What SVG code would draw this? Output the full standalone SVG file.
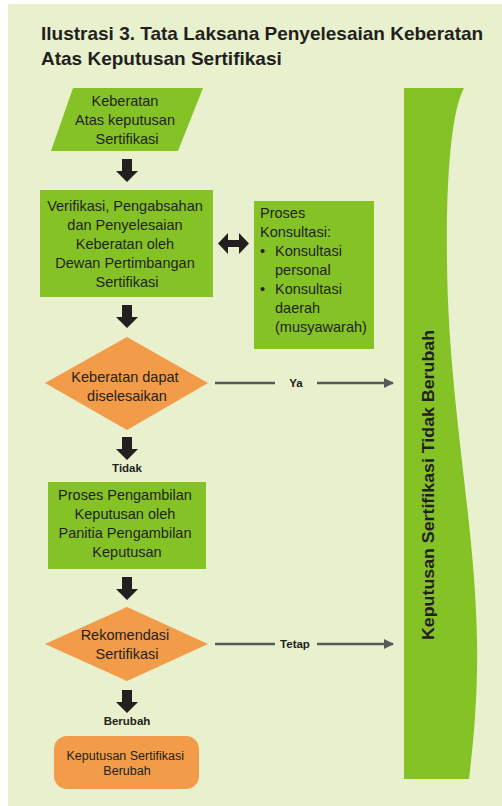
<svg xmlns="http://www.w3.org/2000/svg" width="502" height="806" viewBox="0 0 502 806">
  <defs>
    <style>
      .txt { font-family: "Liberation Sans", Arial, sans-serif; fill: #231f20; }
      .body { font-size: 14.5px; }
      .small { font-size: 12.5px; }
      .lbl { font-size: 11.5px; font-weight: bold; }
      .title { font-size: 19px; font-weight: bold; }
      .green { fill: #85c226; }
      .orange { fill: #f29b48; }
      .block { fill: #231f20; }
      .line { stroke: #58595b; stroke-width: 2.5; fill: none; }
    </style>
    <marker id="tri" viewBox="0 0 10 10" refX="9" refY="5" markerWidth="4" markerHeight="4" orient="auto">
      <path d="M0,0 L10,5 L0,10 Z" fill="#58595b"/>
    </marker>
    <!-- solid down arrow, origin at top centre -->
    <path id="down" d="M-5,0 H5 V12 H11 L0,23 L-11,12 H-5 Z"/>
  </defs>

  <rect x="8" y="4" width="494" height="802" fill="#e8f0cd"/>

  <text class="txt title" x="41" y="40">Ilustrasi 3. Tata Laksana Penyelesaian Keberatan</text>
  <text class="txt title" x="41" y="65">Atas Keputusan Sertifikasi</text>

  <g id="keberatan">
    <polygon class="green" points="73,88 203,88 178,151 51,151"/>
    <text class="txt body" text-anchor="middle">
      <tspan x="127" y="106">Keberatan</tspan>
      <tspan x="127" y="125">Atas keputusan</tspan>
      <tspan x="127" y="144">Sertifikasi</tspan>
    </text>
  </g>

  <g id="verifikasi">
    <rect class="green" x="40" y="190" width="173" height="107"/>
    <text class="txt body" text-anchor="middle">
      <tspan x="127" y="211">Verifikasi, Pengabsahan</tspan>
      <tspan x="127" y="230">dan Penyelesaian</tspan>
      <tspan x="127" y="249">Keberatan oleh</tspan>
      <tspan x="127" y="268">Dewan Pertimbangan</tspan>
      <tspan x="127" y="287">Sertifikasi</tspan>
    </text>
  </g>

  <g id="konsultasi">
    <rect class="green" x="254" y="201" width="120" height="148"/>
    <text class="txt body">
      <tspan x="260" y="218">Proses</tspan>
      <tspan x="260" y="237">Konsultasi:</tspan>
      <tspan x="260" y="256">•</tspan>
      <tspan x="275" y="256">Konsultasi</tspan>
      <tspan x="275" y="275">personal</tspan>
      <tspan x="260" y="294">•</tspan>
      <tspan x="275" y="294">Konsultasi</tspan>
      <tspan x="275" y="313">daerah</tspan>
      <tspan x="275" y="332">(musyawarah)</tspan>
    </text>
  </g>

  <g id="dapat-diselesaikan">
    <polygon class="orange" points="127,337 208,383 127,430 45,383"/>
    <text class="txt body" text-anchor="middle">
      <tspan x="127" y="382">Keberatan dapat</tspan>
      <tspan x="127" y="401">diselesaikan</tspan>
    </text>
  </g>

  <g id="pengambilan">
    <rect class="green" x="48" y="482" width="158" height="87"/>
    <text class="txt body" text-anchor="middle">
      <tspan x="127" y="500">Proses Pengambilan</tspan>
      <tspan x="127" y="519">Keputusan oleh</tspan>
      <tspan x="127" y="538">Panitia Pengambilan</tspan>
      <tspan x="127" y="557">Keputusan</tspan>
    </text>
  </g>

  <g id="rekomendasi">
    <polygon class="orange" points="127,607 208,644 127,681 45,644"/>
    <text class="txt body" text-anchor="middle">
      <tspan x="127" y="640">Rekomendasi</tspan>
      <tspan x="127" y="659">Sertifikasi</tspan>
    </text>
  </g>

  <g id="berubah">
    <rect class="orange" x="54" y="736" width="145" height="53" rx="13"/>
    <text class="txt small" text-anchor="middle">
      <tspan x="127" y="760">Keputusan Sertifikasi</tspan>
      <tspan x="127" y="775">Berubah</tspan>
    </text>
  </g>

  <g id="tidak-berubah">
    <path class="green" d="M404,88 L464,88 C451,112 446,180 447,260 C448,400 475,520 477,640 C478,700 473,745 469,779 L404,779 Z"/>
    <text class="txt" font-size="16" font-weight="bold" text-anchor="middle" transform="translate(434,485) rotate(-90)" textLength="310" lengthAdjust="spacingAndGlyphs">Keputusan Sertifikasi Tidak Berubah</text>
  </g>

  <g id="connectors">
    <use href="#down" class="block" x="127" y="159"/>
    <use href="#down" class="block" x="127" y="305"/>
    <use href="#down" class="block" x="127" y="437"/>
    <use href="#down" class="block" x="127" y="577"/>
    <use href="#down" class="block" x="127" y="690"/>
    <!-- two-headed block arrow between verification and consultation -->
    <path class="block" d="M218,243.5 L228,233 V240 H239 V233 L249,243.5 L239,254 V247 H228 V254 Z"/>

    <line class="line" x1="215" y1="383" x2="275" y2="383"/>
    <line class="line" x1="317" y1="383" x2="393" y2="383" marker-end="url(#tri)"/>
    <text class="txt lbl" x="296" y="387" text-anchor="middle">Ya</text>

    <line class="line" x1="215" y1="644" x2="275" y2="644"/>
    <line class="line" x1="317" y1="644" x2="393" y2="644" marker-end="url(#tri)"/>
    <text class="txt lbl" x="295" y="648" text-anchor="middle">Tetap</text>

    <text class="txt lbl" x="127" y="472" text-anchor="middle">Tidak</text>
    <text class="txt lbl" x="127" y="725" text-anchor="middle">Berubah</text>
  </g>
</svg>
